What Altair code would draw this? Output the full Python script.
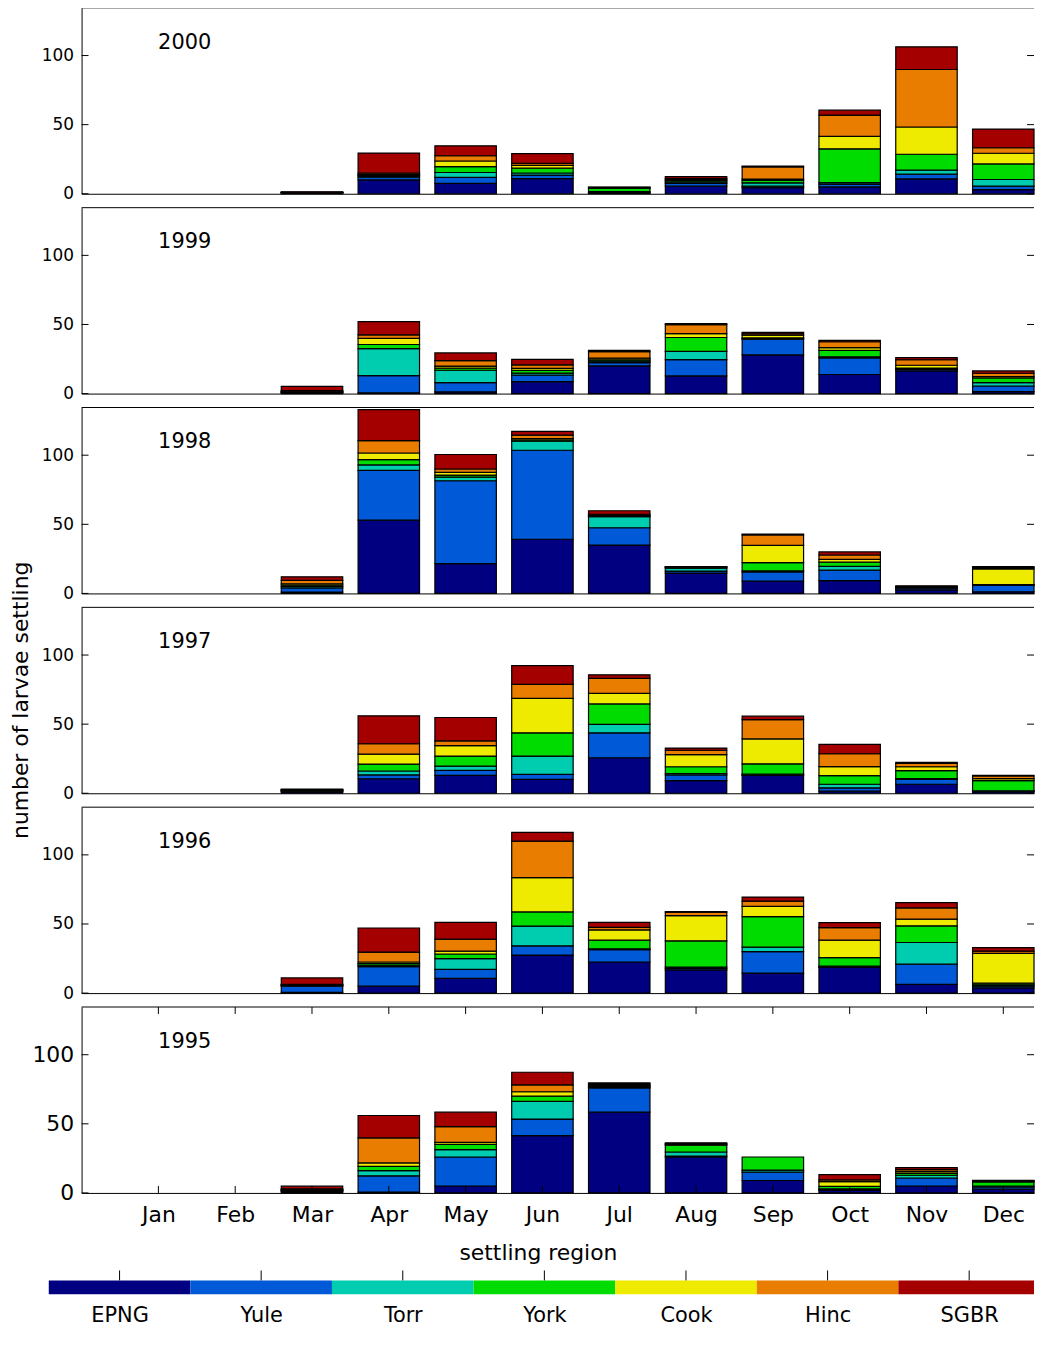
import altair as alt
import pandas as pd

months = ["Jan", "Feb", "Mar", "Apr", "May", "Jun", "Jul", "Aug", "Sep", "Oct", "Nov", "Dec"]
month_num = list(range(1, 13))
regions = ["EPNG", "Yule", "Torr", "York", "Cook", "Hinc", "SGBR"]
region_colors = ["#000080", "#0059d6", "#00cdb0", "#00dc00", "#eeea00", "#e87d00", "#a50000"]
years = [2000, 1999, 1998, 1997, 1996, 1995]
y_tick_values = [0, 50, 100]
y_title = "number of larvae settling"
x_title = "settling region"

# ---- values (Jan..Dec) per region and year ----
EPNG_2000 = [0, 0, 0.6, 10, 7.5, 11, 0.5, 5.5, 4.5, 5, 10.8, 3]
Yule_2000 = [0, 0, 0.1, 2, 4.3, 2.5, 0.5, 2, 1, 2, 3.4, 2.5]
Torr_2000 = [0, 0, 0.1, 1, 3.6, 1.5, 0.5, 1, 2.4, 1, 2.9, 4.8]
York_2000 = [0, 0, 0.1, 0.5, 4.3, 3.5, 2.5, 1, 2, 24.5, 11.5, 11.3]
Cook_2000 = [0, 0, 0.1, 0.5, 4, 2, 0.3, 0.7, 0.8, 9, 19.7, 7.7]
Hinc_2000 = [0, 0, 0.1, 1, 3.8, 1.5, 0.3, 1, 8.7, 15.4, 41.6, 4]
SGBR_2000 = [0, 0, 0.3, 14.4, 7.2, 7, 0.3, 1.3, 0.6, 3.6, 16.4, 13.5]

EPNG_1999 = [0, 0, 0.5, 0.5, 1.2, 8.7, 20, 12.8, 28, 13.8, 16.5, 1.4]
Yule_1999 = [0, 0, 0.3, 12.5, 6.7, 4.6, 2.4, 11.8, 11.3, 12, 1, 4.1]
Torr_1999 = [0, 0, 0.3, 19.5, 9, 1.5, 1, 6, 0.5, 0.8, 0.5, 2.4]
York_1999 = [0, 0, 0.3, 3, 1.5, 2, 1, 10, 0.5, 4.6, 0.5, 3.4]
Cook_1999 = [0, 0, 0.3, 4.5, 1.5, 1.5, 1.2, 2.8, 2, 2, 2, 1]
Hinc_1999 = [0, 0, 0.5, 2.5, 4, 2.5, 4.8, 6.5, 1, 4.3, 4, 2.4]
SGBR_1999 = [0, 0, 3, 9.5, 5.5, 4, 0.8, 0.8, 1, 1, 1.5, 1.7]

EPNG_1998 = [0, 0, 1, 53, 21.6, 39.2, 35, 14.7, 9, 9.2, 2.6, 1.2]
Yule_1998 = [0, 0, 3, 36, 59.9, 64.4, 12.5, 1.5, 6.5, 7.6, 1.2, 4.6]
Torr_1998 = [0, 0, 1, 4, 2.6, 6.5, 8, 2, 0.8, 2.8, 0.3, 0.3]
York_1998 = [0, 0, 1, 3.8, 1.5, 1, 0.5, 0.5, 6, 3, 0.3, 0.3]
Cook_1998 = [0, 0, 1, 4.8, 2, 1, 0.5, 0.3, 12.5, 2.1, 0.3, 11.3]
Hinc_1998 = [0, 0, 2.5, 8.9, 2.4, 2.4, 0.8, 0.3, 7.5, 3.1, 0.3, 1]
SGBR_1998 = [0, 0, 2.5, 22.5, 10.5, 2.8, 2.5, 0.2, 0.7, 2.2, 0.5, 0.8]

EPNG_1997 = [0, 0, 1, 10.5, 13, 10.1, 25.7, 9.2, 13, 1.5, 6.5, 1.2]
Yule_1997 = [0, 0, 0.5, 2.8, 3.6, 3.6, 18, 4, 0.5, 2.4, 3.6, 0.3]
Torr_1997 = [0, 0, 0.3, 2.8, 3, 13.2, 6.2, 1, 0.3, 2.6, 0.5, 0.3]
York_1997 = [0, 0, 0.3, 5, 7.3, 16.8, 14.7, 5, 7.5, 6.3, 5.8, 7.3]
Cook_1997 = [0, 0, 0.3, 7.2, 7.6, 25, 7.7, 8.7, 18, 6.5, 2.8, 1.5]
Hinc_1997 = [0, 0, 0.3, 7.5, 3.4, 10.1, 10.8, 3.2, 14, 9.3, 2.4, 1.9]
SGBR_1997 = [0, 0, 0.3, 20.2, 16.9, 13.5, 2.6, 1.6, 2.5, 6.7, 0.8, 0.5]

EPNG_1996 = [0, 0, 0.5, 5, 10.7, 27.5, 22.5, 16.8, 14.5, 18.5, 6.3, 3.8]
Yule_1996 = [0, 0, 4.5, 14.2, 6.4, 6.7, 9, 1, 15.5, 0.5, 14.6, 1.2]
Torr_1996 = [0, 0, 0.3, 1.1, 7.9, 14.3, 0.5, 1, 3.2, 0.5, 15.7, 1]
York_1996 = [0, 0, 0.3, 1.1, 3.3, 10.2, 6.3, 19, 22.1, 6.2, 12.1, 1.2]
Cook_1996 = [0, 0, 0.3, 1.1, 2, 24.9, 7.4, 18.3, 7.4, 12.6, 4.8, 21.5]
Hinc_1996 = [0, 0, 0.4, 7.2, 8.7, 26.3, 1.8, 2.5, 3.9, 9.1, 8.1, 1.6]
SGBR_1996 = [0, 0, 4.7, 17.4, 12.2, 6.4, 3.7, 0.3, 2.9, 3.6, 3.8, 2.6]

EPNG_1995 = [0, 0, 1, 0.6, 5, 41.4, 58.4, 26, 9, 1.9, 5, 2.7]
Yule_1995 = [0, 0, 0.5, 11.8, 21, 12, 17.5, 0.7, 6, 0.5, 5.8, 1.7]
Torr_1995 = [0, 0, 0.3, 3.8, 5.3, 12.8, 0.7, 2.9, 1.5, 0.5, 2, 0.5]
York_1995 = [0, 0, 0.3, 3, 3.8, 3.8, 0.7, 4.9, 9.5, 1.8, 1.4, 3.1]
Cook_1995 = [0, 0, 0.3, 2.5, 1.5, 3.2, 0.7, 0.6, 0, 3.5, 1.2, 0.4]
Hinc_1995 = [0, 0, 0.5, 18.1, 11.4, 5, 0.8, 0.6, 0, 1.2, 1.4, 0.4]
SGBR_1995 = [0, 0, 2, 16.2, 10.4, 9.1, 0.8, 0.6, 0, 3.8, 1.5, 0.3]

data_by_year = {
    2000: [EPNG_2000, Yule_2000, Torr_2000, York_2000, Cook_2000, Hinc_2000, SGBR_2000],
    1999: [EPNG_1999, Yule_1999, Torr_1999, York_1999, Cook_1999, Hinc_1999, SGBR_1999],
    1998: [EPNG_1998, Yule_1998, Torr_1998, York_1998, Cook_1998, Hinc_1998, SGBR_1998],
    1997: [EPNG_1997, Yule_1997, Torr_1997, York_1997, Cook_1997, Hinc_1997, SGBR_1997],
    1996: [EPNG_1996, Yule_1996, Torr_1996, York_1996, Cook_1996, Hinc_1996, SGBR_1996],
    1995: [EPNG_1995, Yule_1995, Torr_1995, York_1995, Cook_1995, Hinc_1995, SGBR_1995],
}

# ---- layout ----
W = 958
H = 187
X_MAX = 12.4
Y_MAX = 134.5
BAR_HALF = 0.4
FONT = "DejaVu Sans"
TICK = 7

x_scale = alt.Scale(domain=[0, X_MAX], nice=False, zero=False)
y_scale = alt.Scale(domain=[0, Y_MAX], nice=False, zero=True)
color_scale = alt.Scale(domain=regions, range=region_colors)
month_expr = "[" + ",".join(f"'{m}'" for m in months) + "][datum.value - 1]"
region_expr = "[" + ",".join(f"'{r}'" for r in regions) + "][datum.value - 1]"


def year_frame(year):
    rows = []
    for ri, (reg, vals) in enumerate(zip(regions, data_by_year[year])):
        for m, v in zip(month_num, vals):
            rows.append({"month": m, "region": reg, "ridx": ri, "value": v})
    return pd.DataFrame(rows)


def panel(year, bottom=False, with_ytitle=False):
    df = year_frame(year)
    if bottom:
        xaxis = alt.Axis(values=month_num, labelExpr=month_expr, labelFontSize=22,
                         labelPadding=12, labelColor="black", ticks=False, domain=True,
                         domainColor="black", grid=False, title=x_title,
                         titleFontSize=22, titleFontWeight="normal", titleColor="black",
                         titlePadding=17, titleX=459, titleAlign="center")
    else:
        xaxis = alt.Axis(labels=False, ticks=False, domain=True, domainColor="black",
                         grid=False, title=None)
    yaxis = alt.Axis(values=y_tick_values, ticks=False, domain=True, domainColor="black",
                     grid=False, labelFontSize=22 if bottom else 17, labelColor="black",
                     labelPadding=8, title=None)

    bars = (
        alt.Chart(df)
        .transform_filter("datum.value > 0")
        .transform_stack(stack="value", groupby=["month"],
                         sort=[alt.SortField("ridx", order="ascending")],
                         as_=["v0", "v1"])
        .transform_calculate(x0=f"datum.month - {BAR_HALF}", x1=f"datum.month + {BAR_HALF}")
        .mark_bar(stroke="black", strokeWidth=1.2)
        .encode(
            x=alt.X("x0:Q", scale=x_scale, axis=xaxis),
            x2="x1:Q",
            y=alt.Y("v0:Q", scale=y_scale, axis=yaxis),
            y2="v1:Q",
            color=alt.Color("region:N", scale=color_scale, legend=None),
        )
    )
    tick_df = pd.DataFrame({"t": y_tick_values})
    lticks = alt.Chart(tick_df).mark_rule(color="black").encode(
        y=alt.Y("t:Q", scale=y_scale, axis=yaxis), x=alt.value(0), x2=alt.value(TICK))
    rticks = alt.Chart(tick_df).mark_rule(color="black").encode(
        y=alt.Y("t:Q", scale=y_scale, axis=yaxis), x=alt.value(W - TICK), x2=alt.value(W))
    top = alt.Chart(pd.DataFrame({"a": [0]})).mark_rule(color="black").encode(
        x=alt.value(0), x2=alt.value(W), y=alt.value(0))
    label = alt.Chart(pd.DataFrame({"label": [str(year)]})).mark_text(
        align="left", baseline="middle", fontSize=21, color="black"
    ).encode(x=alt.value(77), y=alt.value(35), text="label:N")
    layers = [bars, lticks, rticks, top, label]
    if with_ytitle:
        yt = alt.Chart(pd.DataFrame({"t": [y_title]})).mark_text(
            angle=270, align="center", baseline="middle", fontSize=22, color="black"
        ).encode(x=alt.value(-61), y=alt.value(H / 2), text="t:N")
        layers.append(yt)
    if bottom:
        mt = pd.DataFrame({"m": month_num})
        bt = alt.Chart(mt).mark_rule(color="black").encode(
            x=alt.X("m:Q", scale=x_scale, axis=xaxis), y=alt.value(H - TICK), y2=alt.value(H))
        tt = alt.Chart(mt).mark_rule(color="black").encode(
            x=alt.X("m:Q", scale=x_scale, axis=xaxis), y=alt.value(0), y2=alt.value(TICK))
        layers += [bt, tt]
    return alt.layer(*layers).properties(width=W, height=H)


panels = []
for y in years:
    panels.append(panel(y, bottom=(y == 1995), with_ytitle=(y == 1997)))

# ---- colour bar ----
CB_PX = 142.43
CB_LO = 0.5 + 33 / CB_PX
CB_HI = CB_LO + W / CB_PX
CB_H = 88
CB_BAR = 14
cb_scale = alt.Scale(domain=[CB_LO, CB_HI], nice=False, zero=False)
cb_df = pd.DataFrame({"idx": list(range(1, len(regions) + 1)), "region": regions})
cb_axis = alt.Axis(values=list(range(1, len(regions) + 1)), labelExpr=region_expr,
                   labelFontSize=21, labelColor="black", labelPadding=10, ticks=False,
                   domain=False, grid=False, title=None)
cb_rect = (
    alt.Chart(cb_df)
    .transform_calculate(c0="datum.idx - 0.5", c1=f"min(datum.idx + 0.5, {CB_HI})")
    .mark_rect(clip=False)
    .encode(
        x=alt.X("c0:Q", scale=cb_scale, axis=cb_axis),
        x2="c1:Q",
        y=alt.value(CB_H - CB_BAR),
        y2=alt.value(CB_H),
        color=alt.Color("region:N", scale=color_scale, legend=None),
    )
)
cb_ticks = alt.Chart(cb_df).mark_rule(color="black").encode(
    x=alt.X("idx:Q", scale=cb_scale, axis=cb_axis),
    y=alt.value(CB_H - CB_BAR - 10), y2=alt.value(CB_H - CB_BAR))
colorbar = alt.layer(cb_rect, cb_ticks).properties(width=W, height=CB_H)

chart = (
    alt.vconcat(*panels, colorbar, spacing=14, bounds="flush")
    .properties(padding={"left": 1, "top": -5, "right": 0, "bottom": -4})
    .configure(font=FONT)
    .configure_view(stroke="transparent")
)

chart.save("out.html", embed_options={"renderer": "svg", "actions": False})
